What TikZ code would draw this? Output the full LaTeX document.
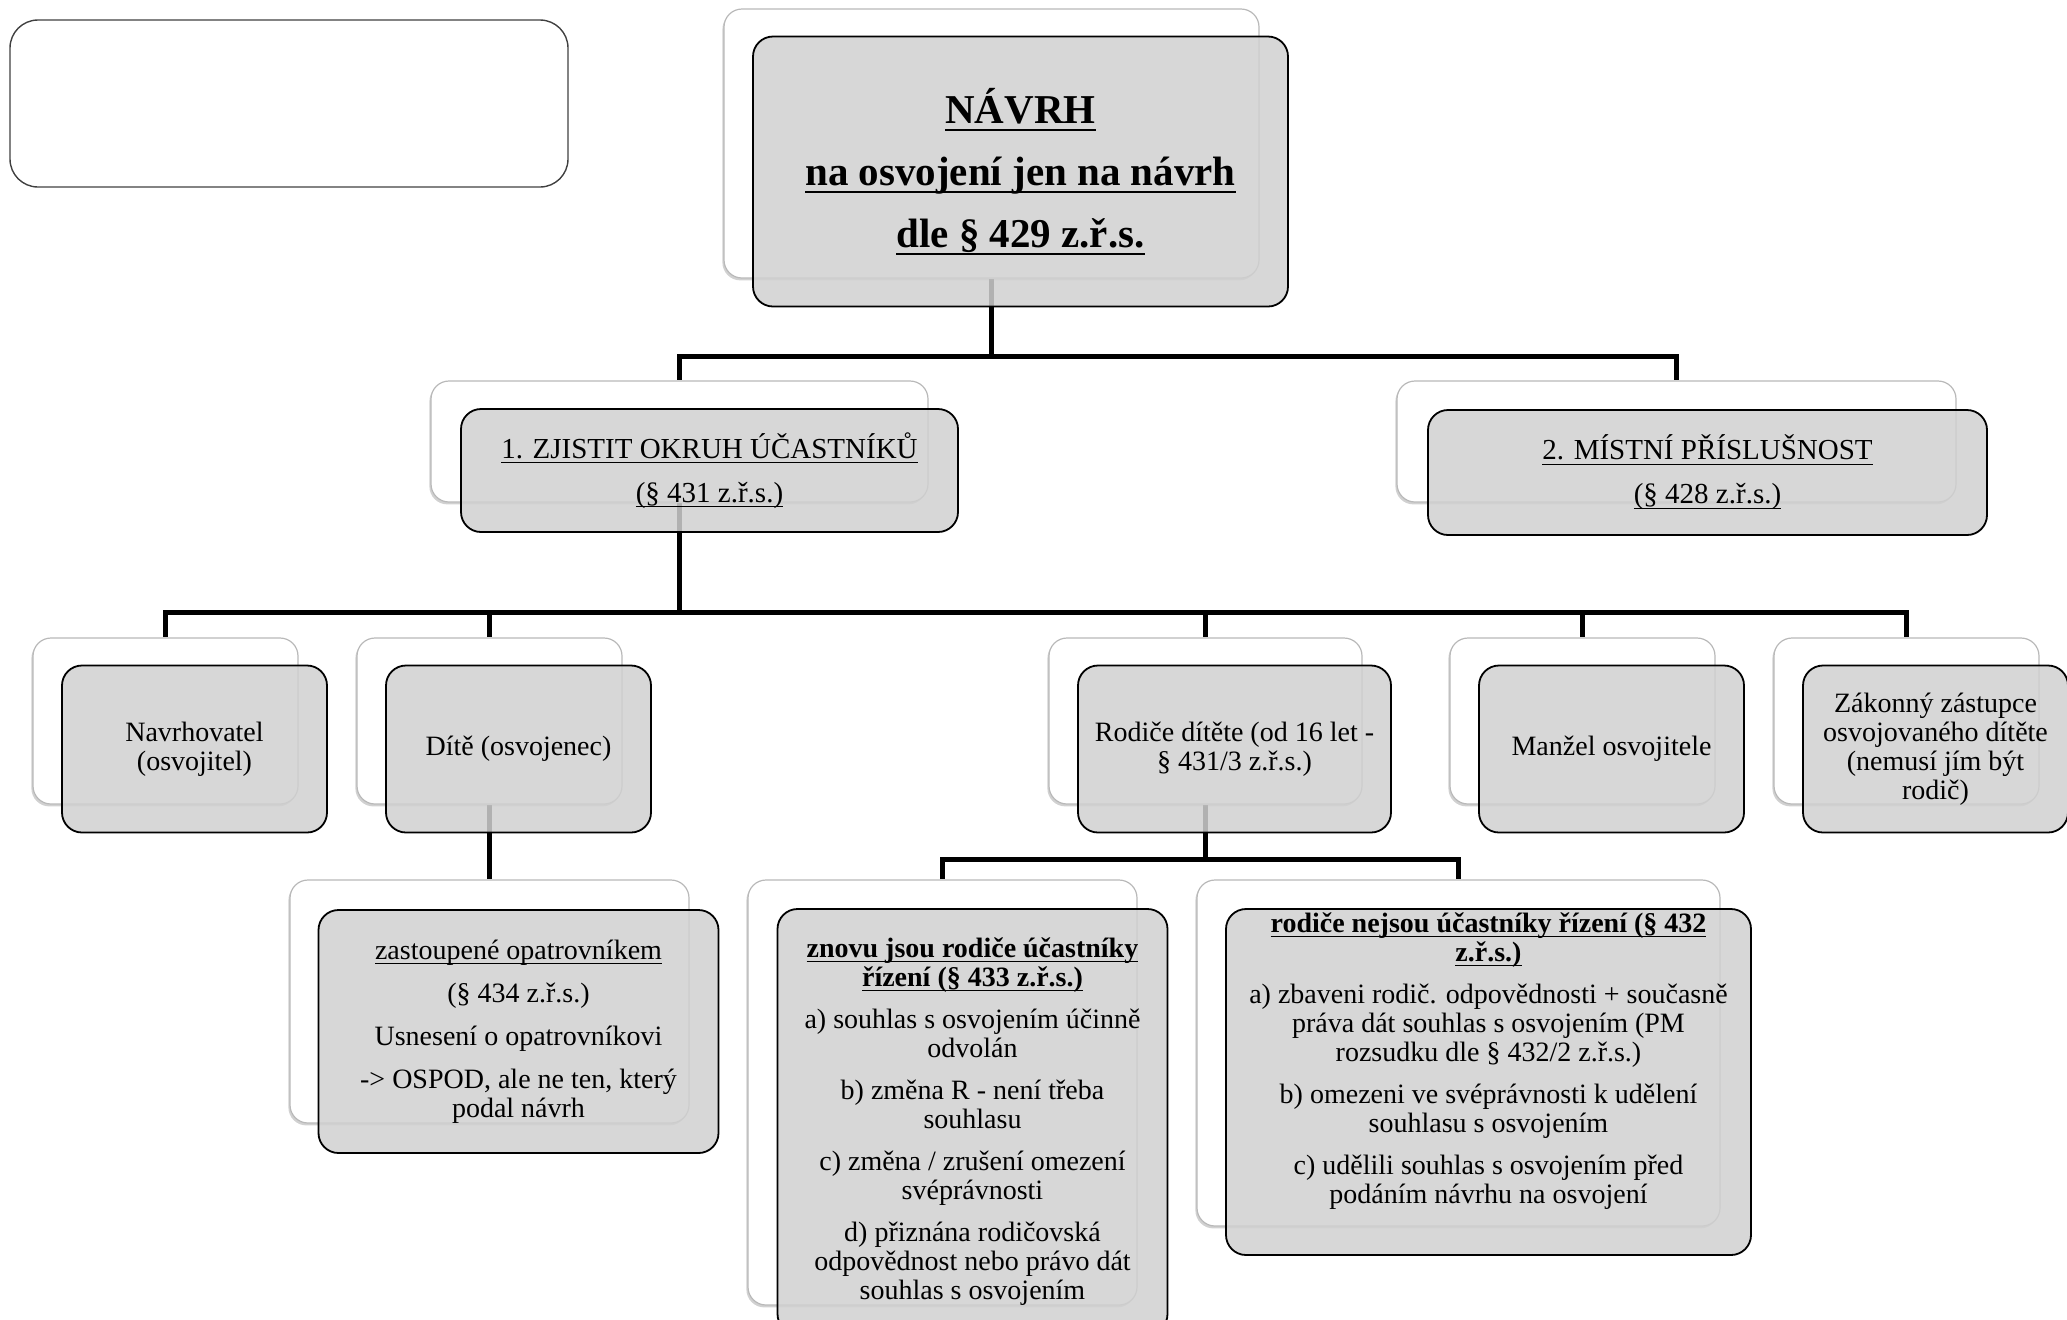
\documentclass[tikz,border=0pt]{standalone}
\usepackage{fontspec}
\setmainfont{Liberation Serif}
\usetikzlibrary{positioning,shadows,backgrounds}
\definecolor{BoxGray}{RGB}{208,208,208}
\definecolor{EdgeGray}{RGB}{185,185,185}
\newcommand\uln[2][0.55pt]{\setbox0\hbox{#2}\rlap{\rule[-0.17em]{\wd0}{#1}}\box0}
\tikzset{wh/.style 2 args={minimum width=#1*0.5pt, minimum height=#2*0.5pt},
	backbox/.style={draw=EdgeGray, line width=0.6pt, fill=white, rounded corners=9pt, inner sep=0pt,
		drop shadow={shadow xshift=-0.8pt, shadow yshift=-1.2pt, opacity=0.3, fill=black!60}},
	frontbox/.style={draw=black, line width=0.9pt, fill=BoxGray, fill opacity=0.85, text opacity=1,
		rounded corners=10pt, inner sep=0pt, align=center, font=\fontsize{14}{14.5}\selectfont},
	conn/.style={line width=2.4pt, black}}

\begin{document}
\begin{tikzpicture}[x=0.5pt, y=-0.5pt]
	\useasboundingbox (0,0) rectangle (2067,1319);
	\node[draw=black!75, line width=0.7pt, rounded corners=14pt, wh={558}{167}] (blank) at (289,103.5) {};
	% back boxes
	\node[backbox, wh={535}{269}] (b-top) at (991.5,143.5) {};
	\node[backbox, wh={497}{121}] (b-zjistit) at (679.5,441.5) {};
	\node[backbox, wh={559}{121}] (b-mistni) at (1676.5,441.5) {};
	\foreach \n/\x/\w in {navrh/165.5/265, dite/489.5/265, rodice/1205.5/313, manzel/1582.5/265, zakon/1906.5/265}
		\node[backbox, wh={\w}{166}] (b-\n) at (\x,721) {};
	\node[backbox, wh={399}{243}] (b-zast) at (489.5,1001.5) {};
	\node[backbox, wh={389}{425}] (b-znovu) at (942.5,1092.5) {};
	\node[backbox, wh={523}{346}] (b-nejsou) at (1458.5,1053) {};
	% front boxes
	\node[frontbox, wh={535}{270}, font=\fontsize{20.5}{21.5}\selectfont\bfseries] (top) at ([shift={(29,28)}]b-top)
		{\uln[1pt]{NÁVRH}\\[9.5pt]\uln[1pt]{na osvojení jen na návrh}\\[9.5pt]\uln[1pt]{dle § 429 z.ř.s.}};
	\node[frontbox, wh={497}{123}, font=\fontsize{14.5}{15}\selectfont] (zjistit) at ([shift={(30,29)}]b-zjistit)
		{\uln{1. ZJISTIT OKRUH ÚČASTNÍKŮ}\\[7pt]\uln{(§ 431 z.ř.s.)}};
	\node[frontbox, wh={559}{125}, font=\fontsize{14.5}{15}\selectfont] (mistni) at ([shift={(31,31)}]b-mistni)
		{\uln{2. MÍSTNÍ PŘÍSLUŠNOST}\\[7pt]\uln{(§ 428 z.ř.s.)}};
	\node[frontbox, wh={265}{167}] (navrh) at ([shift={(29,28)}]b-navrh) {Navrhovatel\\(osvojitel)};
	\node[frontbox, wh={265}{167}] (dite) at ([shift={(29,28)}]b-dite) {Dítě (osvojenec)};
	\node[frontbox, wh={313}{167}] (rodice) at ([shift={(29,28)}]b-rodice) {Rodiče dítěte (od 16 let -\\§ 431/3 z.ř.s.)};
	\node[frontbox, wh={265}{167}] (manzel) at ([shift={(29,28)}]b-manzel) {Manžel osvojitele};
	\node[frontbox, wh={265}{167}] (zakon) at ([shift={(29,28)}]b-zakon)
		{Zákonný zástupce\\osvojovaného dítěte\\(nemusí jím být\\rodič)};
	\node[frontbox, wh={400}{243}] (zast) at ([shift={(29,30)}]b-zast)
		{\uln{zastoupené opatrovníkem}\\[7pt](§ 434 z.ř.s.)\\[7pt]Usnesení o opatrovníkovi\\[7pt]-> OSPOD, ale ne ten, který\\podal návrh};
	\node[frontbox, wh={390}{425}] (znovu) at ([shift={(30,29)}]b-znovu)
		{\textbf{\uln{znovu jsou rodiče účastníky}}\\\textbf{\uln{řízení (§ 433 z.ř.s.)}}\\[6.5pt]
		a) souhlas s osvojením účinně\\odvolán\\[6.5pt]b) změna R - není třeba\\souhlasu\\[6.5pt]
		c) změna / zrušení omezení\\svéprávnosti\\[6.5pt]d) přiznána rodičovská\\odpovědnost nebo právo dát\\souhlas s osvojením};
	\node[frontbox, wh={525}{346}] (nejsou) at ([shift={(30,29)}]b-nejsou) {};
	\node[align=center, font=\fontsize{14}{14.5}\selectfont] (nejsou-t) at ([shift={(0,-21)}]nejsou)
		{\textbf{\uln{rodiče nejsou účastníky řízení (§ 432}}\\\textbf{\uln{z.ř.s.)}}\\[6.5pt]
		a) zbaveni rodič. odpovědnosti + současně\\práva dát souhlas s osvojením (PM\\rozsudku dle § 432/2 z.ř.s.)\\[6.5pt]
		b) omezeni ve svéprávnosti k udělení\\souhlasu s osvojením\\[6.5pt]c) udělili souhlas s osvojením před\\podáním návrhu na osvojení};
	% connectors
	\begin{scope}[on background layer]
		\draw[conn] (b-top.south) -- ++(0,78) coordinate (f1) -| (b-zjistit.north);
		\draw[conn] (f1) -| (b-mistni.north);
		\draw[conn] (b-zjistit.south) -- ++(0,110) coordinate (f2) -| (b-navrh.north);
		\foreach \n in {dite,rodice,manzel,zakon}
			\draw[conn] (f2) -| (b-\n.north);
		\draw[conn] (b-dite.south) -- (b-zast.north);
		\draw[conn] (b-rodice.south) -- ++(0,55) coordinate (f3) -| (b-znovu.north);
		\draw[conn] (f3) -| (b-nejsou.north);
	\end{scope}
\end{tikzpicture}
\end{document}
